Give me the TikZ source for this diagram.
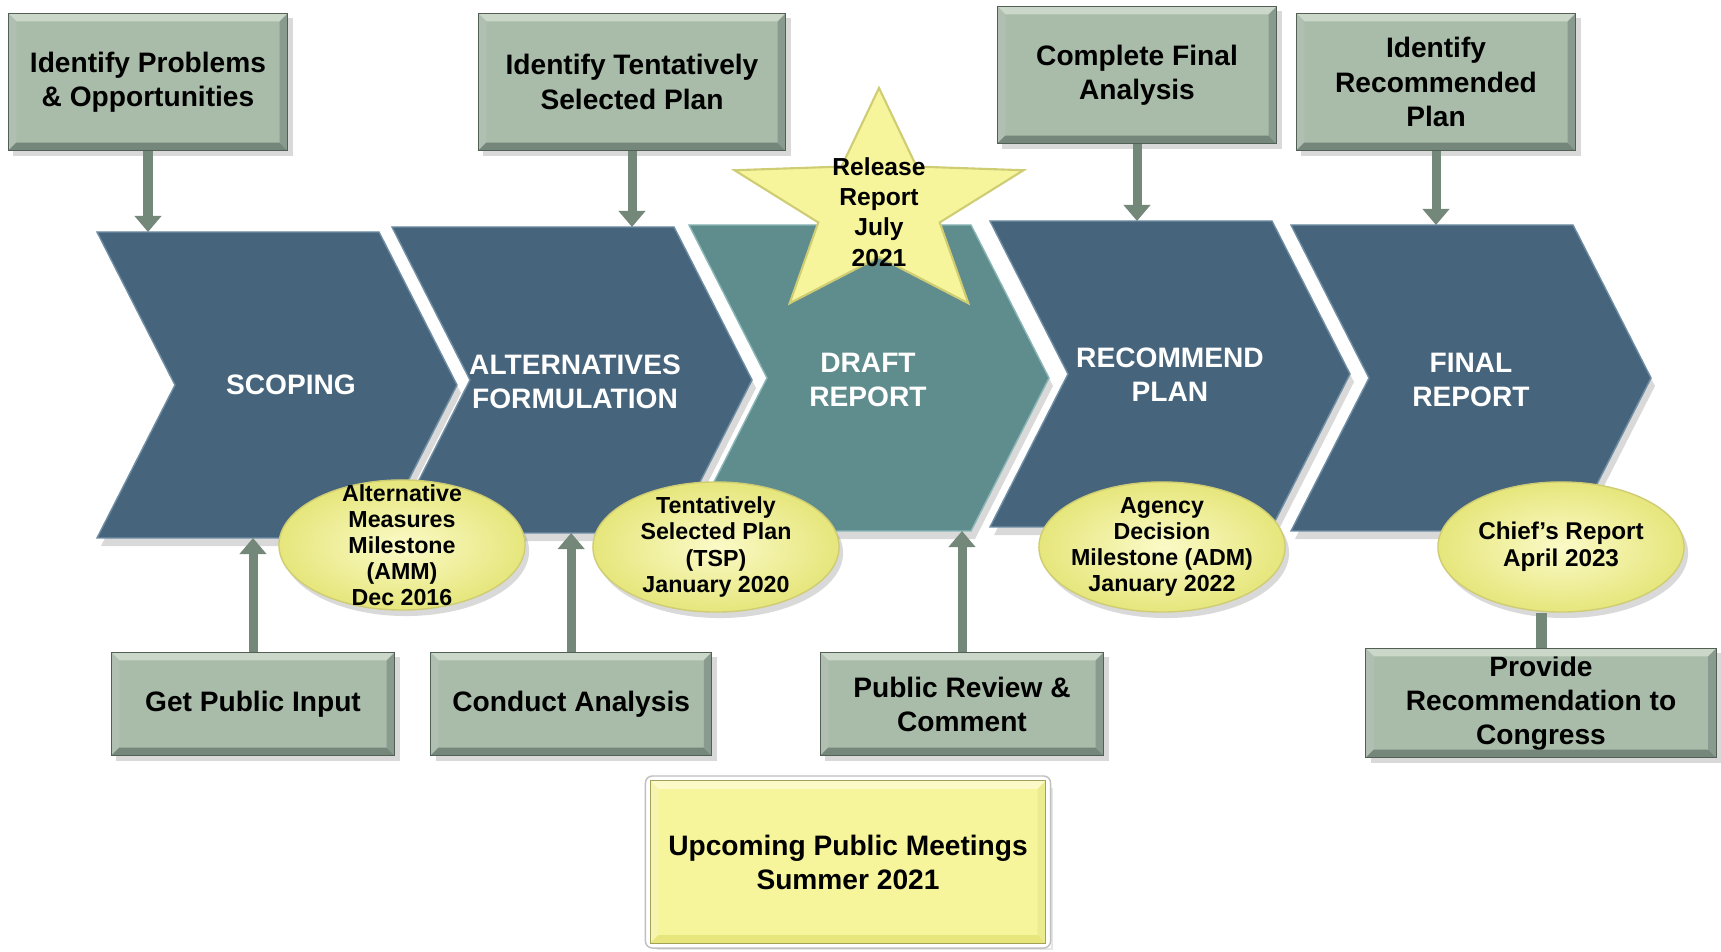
\documentclass[tikz,border=0pt]{standalone}
\usepackage{fontspec}
\setmainfont{Liberation Sans}
\usetikzlibrary{positioning, shapes.geometric, shadows, arrows.meta}

\definecolor{chevblue}{HTML}{46647B}
\definecolor{chevedge}{HTML}{6F8DA3}
\definecolor{draftteal}{HTML}{5F8C8D}
\definecolor{draftedge}{HTML}{8AB6B6}
\definecolor{sage}{HTML}{A9BCA9}
\definecolor{sagelight}{HTML}{CAD7C9}
\definecolor{sagedark}{HTML}{74877A}
\definecolor{sageline}{HTML}{5C6D5E}
\definecolor{lemon}{HTML}{F6F59C}
\definecolor{lemonlight}{HTML}{FBFAC8}
\definecolor{lemondeep}{HTML}{E6E67C}
\definecolor{lemonedge}{HTML}{CFCD74}
\definecolor{arrowgray}{HTML}{74887A}

\newcommand{\boxbevel}[3]{%
	\fill[#2] (#1.north west) -- (#1.north east) -- ([shift={(-8,8)}]#1.north east) -- ([shift={(8,8)}]#1.north west) -- cycle;
	\fill[#2!70!#3] (#1.north west) -- ([shift={(8,8)}]#1.north west) -- ([shift={(8,-8)}]#1.south west) -- (#1.south west) -- cycle;
	\fill[#3] (#1.south west) -- (#1.south east) -- ([shift={(-8,-8)}]#1.south east) -- ([shift={(8,-8)}]#1.south west) -- cycle;
	\fill[#3!75!#2] (#1.north east) -- ([shift={(-8,8)}]#1.north east) -- ([shift={(-8,-8)}]#1.south east) -- (#1.south east) -- cycle;
	\draw[#3!70!black, line width=0.3pt] (#1.north west) rectangle (#1.south east);
}

\tikzset{
	every node/.append style={
		align=center,
		font={\fontsize{8}{9.7}\selectfont\bfseries},
	},
	stepbox/.append style={
		fill=sage,
		inner sep=0mm,
		outer sep=0mm,
		minimum width=2.79cm,
		minimum height=1.37cm,
		drop shadow={shadow xshift=0.5mm, shadow yshift=-0.5mm, opacity=0.3},
	},
	lowbox/.append style={
		stepbox,
		minimum height=1.03cm,
	},
	phase/.append style={
		text=white,
	},
	phaseshape/.append style={
		line width=0.4pt,
		drop shadow={shadow xshift=0.4mm, shadow yshift=-0.8mm, opacity=0.3},
	},
	milestone/.append style={
		ellipse,
		shading=radial,
		inner color=lemonlight,
		outer color=lemondeep,
		draw=lemonedge,
		inner xsep=-10pt,
		inner ysep=-12pt,
		minimum width=2.46cm,
		minimum height=1.3cm,
		font={\fontsize{6.6}{7.4}\selectfont\bfseries},
		drop shadow={shadow xshift=0.4mm, shadow yshift=-0.6mm, opacity=0.3},
	},
	meeting/.append style={
		fill=lemon,
		inner sep=0mm,
		outer sep=0mm,
		minimum width=3.95cm,
		minimum height=1.62cm,
		drop shadow={shadow xshift=0.7mm, shadow yshift=-0.7mm, opacity=0.2},
		preaction={draw=white, line width=1.0mm},
	},
	arr/.append style={
		draw=arrowgray,
		line width=0.9mm,
		-{Triangle[width=2.6mm, length=1.6mm]},
	},
	bar/.append style={
		draw=arrowgray,
		line width=1.1mm,
	},
}

\begin{document}
\begin{tikzpicture}[x=0.01cm, y=-0.01cm]
\useasboundingbox (0,0) rectangle (1721,952);

\foreach \px/\py/\nm/\col/\edg in {97/232/c1/chevblue/chevedge, 392/227/c2/chevblue/chevedge, 689/225/c3/draftteal/draftedge, 990/221/c4/chevblue/chevedge, 1291/225/c5/chevblue/chevedge}{
	\filldraw[phaseshape, fill=\col, draw=\edg] (\px,\py) -- ++(282,0) -- ++(78,153) -- ++(-78,153) -- ++(-282,0) -- ++(78,-153) -- cycle;
	\coordinate (\nm-top) at (\px+180,\py);
	\coordinate (\nm-bot) at (\px+180,\py+306);
}

\node(scoping)[phase] at (291,385) {SCOPING};
\node(altform)[phase] at (575,382) {ALTERNATIVES\\FORMULATION};
\node(draft)[phase] at (868,380) {DRAFT\\REPORT};
\node(recplan)[phase] at (1170,375) {RECOMMEND\\PLAN};
\node(final)[phase] at (1471,380) {FINAL\\REPORT};

\node(ipo)[stepbox] at (148,82) {Identify Problems\\ \& Opportunities};
\node(itsp)[stepbox, minimum width=3.07cm] at (632,82) {Identify Tentatively\\Selected Plan};
\node(cfa)[stepbox] at (1137,75) {Complete Final\\Analysis};
\node(irp)[stepbox] at (1436,82) {Identify\\Recommended\\Plan};

\node(gpi)[lowbox, minimum width=2.83cm] at (253,704) {Get Public Input};
\node(ca)[lowbox, minimum width=2.81cm, right=0.36cm of gpi] {Conduct Analysis};
\node(prc)[lowbox, minimum width=2.83cm] at (962,704) {Public Review \&\\Comment};
\node(prov)[lowbox, minimum width=3.5cm, minimum height=1.09cm] at (1541,703) {Provide\\Recommendation to\\Congress};

\foreach \b in {ipo, itsp, cfa, irp, gpi, ca, prc, prov}{
	\boxbevel{\b}{sagelight}{sagedark}
}

\draw[arr] (ipo.south) -- (ipo.south |- c1-top);
\draw[arr] (itsp.south) -- (itsp.south |- c2-top);
\draw[arr] (cfa.south) -- (cfa.south |- c4-top);
\draw[arr] (irp.south) -- (irp.south |- c5-top);

\draw[arr] (gpi.north) -- (gpi.north |- c1-bot);
\draw[arr] (ca.north) -- (ca.north |- c2-bot);
\draw[arr] (prc.north) -- (prc.north |- c3-bot);

\filldraw[fill=lemon, draw=lemonedge, line width=0.6pt] plot[samples at={0,...,9}, variable=\k] ({879+152*(1-0.58*mod(\k,2))*cos(90+36*\k)}, {207-119*(1-0.58*mod(\k,2))*sin(90+36*\k)}) -- cycle;
\node(relstar)[font={\fontsize{7}{8.6}\selectfont\bfseries}] at (879,212) {Release\\Report\\July\\2021};

\node(amm)[milestone] at (402,545) {Alternative\\Measures\\Milestone\\(AMM)\\Dec 2016};
\node(tsp)[milestone] at (716,547) {Tentatively\\Selected Plan\\(TSP)\\January 2020};
\node(adm)[milestone] at (1162,547) {Agency\\Decision\\Milestone (ADM)\\January 2022};
\node(chief)[milestone, font={\fontsize{6.9}{7.6}\selectfont\bfseries}] at (1561,547) {Chief’s Report\\April 2023};

\draw[bar] (prov.north) -- (prov.north |- chief.south);

\node(meet)[meeting] at (848,862) {Upcoming Public Meetings\\Summer 2021};
\boxbevel{meet}{lemonlight}{lemondeep}
\draw[black!25, line width=0.4pt, rounded corners=2pt] ([shift={(-5,-5)}]meet.north west) rectangle ([shift={(5,5)}]meet.south east);

\end{tikzpicture}
\end{document}
